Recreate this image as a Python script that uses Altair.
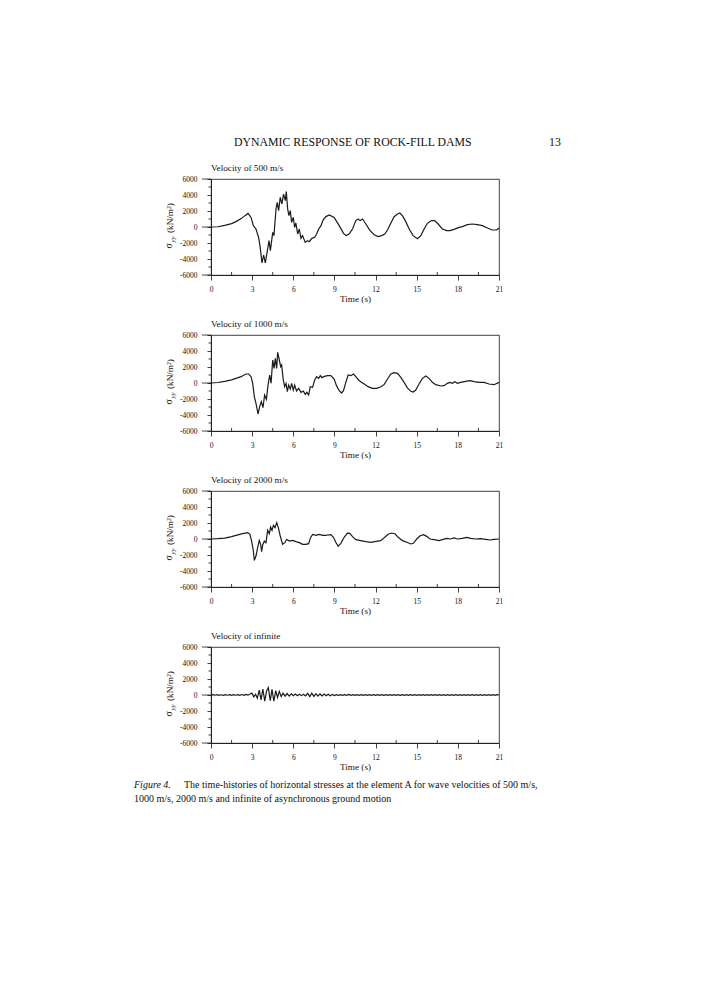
import altair as alt
import pandas as pd

FONT = "Liberation Serif"
W, H = 288, 96
INK = "#111111"

header_text = "DYNAMIC RESPONSE OF ROCK-FILL DAMS"
page_number = "13"
panel_titles = ["Velocity of 500 m/s", "Velocity of 1000 m/s",
                "Velocity of 2000 m/s", "Velocity of infinite"]
caption_label = "Figure 4."
caption_line1 = "The time-histories of horizontal stresses at the element A for wave velocities of 500 m/s,"
caption_line2 = "1000 m/s, 2000 m/s and infinite of asynchronous ground motion"

x_ticks = [0, 3, 6, 9, 12, 15, 18, 21]
x_minor = [1.5, 4.5, 7.5, 10.5, 13.5, 16.5, 19.5]
y_ticks = [-6000, -4000, -2000, 0, 2000, 4000, 6000]
y_long = [-6000, 0, 6000]
y_minor = [-5000, -3000, -1000, 1000, 3000, 5000]

# (time s, stress kN/m2)
v500 = [(0, 0), (0.5, 30), (1.0, 200), (1.5, 420), (1.82, 670), (2.2, 1050), (2.5, 1450),
        (2.7, 1700), (2.92, 1200), (3.09, 170), (3.28, -250), (3.47, -1290), (3.57, -2330),
        (3.72, -4500), (3.84, -3500), (3.96, -4500), (4.13, -2750), (4.23, -1700), (4.33, -2960),
        (4.50, -670), (4.59, -1080), (4.74, 2250), (4.83, 3080), (4.93, 2040), (5.05, 3700),
        (5.17, 2880), (5.29, 4120), (5.42, 3290), (5.49, 4420), (5.59, 2250), (5.68, 1420),
        (5.78, 2040), (5.88, 580), (6.00, 1200), (6.10, -40), (6.19, 500), (6.32, -875),
        (6.44, -250), (6.56, -1420), (6.68, -1080), (6.87, -1920), (7.05, -1700), (7.17, -1830),
        (7.36, -1420), (7.56, -1290), (7.70, -875), (7.85, -250), (8.02, 170), (8.19, 920),
        (8.38, 1300), (8.62, 1500), (8.98, 1200), (9.35, 170), (9.66, -800), (9.85, -1080),
        (10.07, -875), (10.32, -250), (10.56, 800), (10.73, 1000), (10.88, 800), (11.05, 1000),
        (11.29, 375), (11.6, -460), (11.9, -960), (12.19, -1200), (12.45, -1080), (12.67, -875),
        (12.87, -375), (13.11, 460), (13.35, 1290), (13.6, 1625), (13.77, 1750), (13.96, 1420),
        (14.2, 670), (14.45, -250), (14.74, -1080), (15.05, -1460), (15.3, -1080), (15.54, -250),
        (15.78, 460), (16.07, 800), (16.31, 800), (16.56, 375), (16.87, -250), (17.19, -460),
        (17.43, -460), (17.72, -290), (18.09, -40), (18.33, 40), (18.69, 290), (19.06, 375),
        (19.42, 290), (19.79, 170), (20.15, -125), (20.51, -375), (20.83, -375), (21.0, -125)]

v1000 = [(0, 0), (0.5, 60), (1.0, 200), (1.5, 400), (1.82, 580), (2.19, 790), (2.55, 1125),
         (2.75, 1125), (2.92, 790), (3.04, -40), (3.16, -1700), (3.28, -2540), (3.43, -3875),
         (3.55, -2960), (3.67, -2330), (3.79, -3080), (3.91, -1500), (4.04, -2040), (4.16, -250),
         (4.28, 1000), (4.38, -40), (4.50, 2875), (4.60, 1830), (4.69, 3080), (4.79, 1830),
         (4.86, 3830), (4.98, 2875), (5.08, 2040), (5.15, 2250), (5.27, 375), (5.37, -460),
         (5.47, -40), (5.57, -1080), (5.66, -250), (5.78, -750), (5.88, -40), (6.00, -875),
         (6.10, -250), (6.24, -1000), (6.39, -670), (6.56, -1170), (6.73, -1000), (6.87, -1420),
         (6.99, -1170), (7.12, -1500), (7.24, -460), (7.41, -540), (7.56, 375), (7.70, 790),
         (7.85, 580), (7.97, 920), (8.09, 670), (8.27, 830), (8.5, 920), (8.74, 920), (8.98, 500),
         (9.15, -330), (9.35, -960), (9.52, -1250), (9.66, -960), (9.83, 80), (10.0, 1000),
         (10.2, 920), (10.39, 1125), (10.56, 790), (10.76, 375), (10.92, 170), (11.17, -125),
         (11.46, -460), (11.77, -670), (12.09, -670), (12.38, -460), (12.62, -210), (12.87, 500),
         (13.11, 1125), (13.35, 1290), (13.6, 1210), (13.84, 710), (14.08, 80), (14.32, -625),
         (14.57, -1040), (14.74, -1125), (14.93, -875), (15.17, -125), (15.42, 580), (15.66, 875),
         (15.9, 580), (16.14, 80), (16.39, -210), (16.75, -375), (16.99, -330), (17.24, -40),
         (17.43, 80), (17.6, -40), (17.77, 170), (17.97, -40), (18.2, 80), (18.57, 210),
         (18.89, 290), (19.18, 170), (19.54, 80), (19.91, 80), (20.27, -125), (20.64, -210),
         (21.0, 80)]

v2000 = [(0, 0), (0.5, 40), (1.0, 120), (1.5, 290), (1.82, 460), (2.31, 670), (2.67, 790),
         (2.84, 580), (2.96, -250), (3.09, -1500), (3.16, -2670), (3.28, -2125), (3.40, -1080),
         (3.52, -170), (3.62, -670), (3.69, -1580), (3.77, -750), (3.89, -250), (4.01, -460),
         (4.13, 1080), (4.25, 670), (4.35, 1500), (4.45, 1080), (4.55, 1710), (4.67, 1420),
         (4.79, 2040), (4.91, 1420), (5.05, 375), (5.22, -670), (5.39, -460), (5.52, -40),
         (5.71, -250), (5.95, -170), (6.19, -330), (6.44, -460), (6.68, -670), (6.92, -670),
         (7.12, -580), (7.26, 170), (7.41, 580), (7.66, 460), (7.9, 580), (8.14, 460), (8.39, 460),
         (8.5, 500), (8.74, 540), (8.93, 210), (9.1, -410), (9.27, -910), (9.47, -540), (9.71, 210),
         (9.95, 745), (10.12, 700), (10.32, 290), (10.56, -80), (10.92, -210), (11.29, -330),
         (11.65, -410), (12.02, -290), (12.38, -210), (12.67, 210), (12.94, 620), (13.18, 745),
         (13.43, 620), (13.65, 210), (13.96, -210), (14.28, -410), (14.57, -620), (14.76, -540),
         (15.0, 0), (15.25, 410), (15.49, 540), (15.73, 330), (15.97, 0), (16.27, -80),
         (16.63, -210), (16.87, -80), (17.19, 80), (17.48, 0), (17.72, 125), (17.97, 0),
         (18.33, 80), (18.64, 210), (18.94, 80), (19.3, 0), (19.67, 40), (20.03, -40),
         (20.34, -125), (20.64, -40), (21.0, 0)]

vinf = [(0, 0), (0.15, 40), (0.3, -30), (0.45, 40), (0.6, -40), (0.75, 30), (0.9, -40), (1.05, 50),
        (1.2, -30), (1.35, 40), (1.5, -50), (1.65, 40), (1.8, -30), (1.95, 50), (2.1, -40),
        (2.25, 60), (2.4, -40), (2.55, 80), (2.7, -20), (2.85, 120), (2.98, 230), (3.12, -220),
        (3.25, 100), (3.38, -400), (3.52, 600), (3.65, -600), (3.78, 750), (3.92, -780),
        (4.05, 500), (4.18, 920), (4.32, -700), (4.45, 700), (4.58, -780), (4.72, 550),
        (4.85, -300), (4.98, 450), (5.12, -200), (5.25, 220), (5.4, -150), (5.55, 180),
        (5.7, -130), (5.85, 150), (6.0, -100), (6.15, 120), (6.3, -90), (6.45, 100), (6.6, -80),
        (6.75, 90), (6.9, -120), (7.05, 200), (7.2, -200), (7.35, 220), (7.5, -180), (7.65, 160),
        (7.8, -150), (7.95, 130), (8.1, -120), (8.25, 110), (8.4, -100), (8.55, 90), (8.7, -100),
        (8.85, 80), (9.0, -60), (9.15, 50), (9.3, -50), (9.45, 40), (9.6, -50), (9.75, 40),
        (9.9, -40), (10.05, 60), (10.2, -50), (10.35, 50), (10.5, -40), (10.65, 40), (10.8, -50),
        (10.95, 40), (11.1, -40), (11.25, 50), (11.4, -40), (11.55, 40), (11.7, -50), (11.85, 40),
        (12.0, -40), (12.15, 50), (12.3, -40), (12.45, 40), (12.6, -50), (12.75, 40), (12.9, -40),
        (13.05, 50), (13.2, -40), (13.35, 40), (13.5, -50), (13.65, 40), (13.8, -40), (13.95, 50),
        (14.1, -40), (14.25, 40), (14.4, -50), (14.55, 40), (14.7, -40), (14.85, 50), (15.0, -40),
        (15.15, 40), (15.3, -50), (15.45, 40), (15.6, -40), (15.75, 50), (15.9, -40), (16.05, 40),
        (16.2, -50), (16.35, 40), (16.5, -40), (16.65, 50), (16.8, -40), (16.95, 40), (17.1, -50),
        (17.25, 40), (17.4, -40), (17.55, 50), (17.7, -40), (17.85, 40), (18.0, -50), (18.15, 40),
        (18.3, -40), (18.45, 50), (18.6, -40), (18.75, 40), (18.9, -50), (19.05, 40), (19.2, -40),
        (19.35, 50), (19.5, -40), (19.65, 40), (19.8, -50), (19.95, 40), (20.1, -40), (20.25, 50),
        (20.4, -40), (20.55, 40), (20.7, -50), (20.85, 40), (21.0, 0)]

series = [v500, v1000, v2000, vinf]

xs = alt.Scale(domain=[0, 21], nice=False, zero=False)
ys = alt.Scale(domain=[-6000, 6000], nice=False, zero=False)

x_axis = alt.Axis(values=x_ticks, title="Time (s)", grid=False, labelFont=FONT, labelFontSize=7.5,
                  labelColor=INK, labelPadding=5.5, labelFlush=False, tickSize=5, tickWidth=0.8,
                  tickColor=INK, domainColor=INK, domainWidth=0.8, titleFont=FONT,
                  titleFontSize=9.2, titleFontWeight="normal", titleColor=INK, titlePadding=1)
y_axis = alt.Axis(values=y_ticks, title=None, grid=False, labelFont=FONT, labelFontSize=7.5,
                  labelColor=INK, labelPadding=10, labelFlush=False, tickSize=4, tickWidth=0.8,
                  tickColor=INK, domainColor=INK, domainWidth=0.8,
                  labelExpr="datum.value < 0 ? '-' + abs(datum.value) : '' + datum.value")


def txt(s, x, y, size, **kw):
    return alt.Chart(pd.DataFrame({"s": [s]})).mark_text(
        font=FONT, fontSize=size, color=INK, **kw
    ).encode(x=alt.value(x), y=alt.value(y), text="s:N")


def panel(i):
    df = pd.DataFrame(series[i], columns=["t", "v"])
    X = alt.X("t:Q", scale=xs, axis=x_axis)
    Y = alt.Y("v:Q", scale=ys, axis=y_axis)
    line = alt.Chart(df).mark_line(color="#1a1a1a", strokeWidth=1.2).encode(x=X, y=Y)
    xmin = alt.Chart(pd.DataFrame({"t": x_minor})).mark_rule(color=INK, strokeWidth=0.8).encode(
        x=X, y=alt.value(H), y2=alt.value(H - 3))
    ylong = alt.Chart(pd.DataFrame({"v": y_long})).mark_rule(color=INK, strokeWidth=0.8).encode(
        y=Y, x=alt.value(-9), x2=alt.value(0))
    ymin = alt.Chart(pd.DataFrame({"v": y_minor})).mark_rule(color=INK, strokeWidth=0.8).encode(
        y=Y, x=alt.value(-2.5), x2=alt.value(0))
    layers = [line, xmin, ylong, ymin,
              txt(panel_titles[i], 0, -11, 9.2, align="left", baseline="middle"),
              txt("σ", -39, 69.5, 9.5, align="left", baseline="alphabetic", angle=270),
              txt("yy", -36, 63.5, 7, align="left", baseline="alphabetic", angle=270,
                  fontStyle="italic"),
              txt("(kN/m²)", -38.5, 54, 9.2, align="left", baseline="alphabetic", angle=270)]
    if i == 0:
        layers += [
            alt.Chart(pd.DataFrame({"a": [0]})).mark_rule(opacity=0, strokeWidth=0.01).encode(
                x=alt.value(-202), x2=alt.value(-202), y=alt.value(-170), y2=alt.value(-169)),
            txt(header_text, 23, -37.3, 11.8, align="left", baseline="middle"),
            txt(page_number, 338, -37.3, 11.8, align="left", baseline="middle"),
        ]
    if i == 3:
        layers += [
            txt(caption_label, -77, 138, 10, align="left", baseline="middle", fontStyle="italic"),
            txt(caption_line1, -27, 138, 10, align="left", baseline="middle"),
            txt(caption_line2, -77, 152, 10, align="left", baseline="middle"),
        ]
    return alt.layer(*layers).properties(width=W, height=H)


chart = alt.vconcat(*[panel(i) for i in range(4)], spacing=60, bounds="flush").properties(
    padding=0, background="white"
).configure_view(stroke=INK, strokeWidth=0.8)

chart.save("out.html", embed_options={"renderer": "svg", "actions": False})
